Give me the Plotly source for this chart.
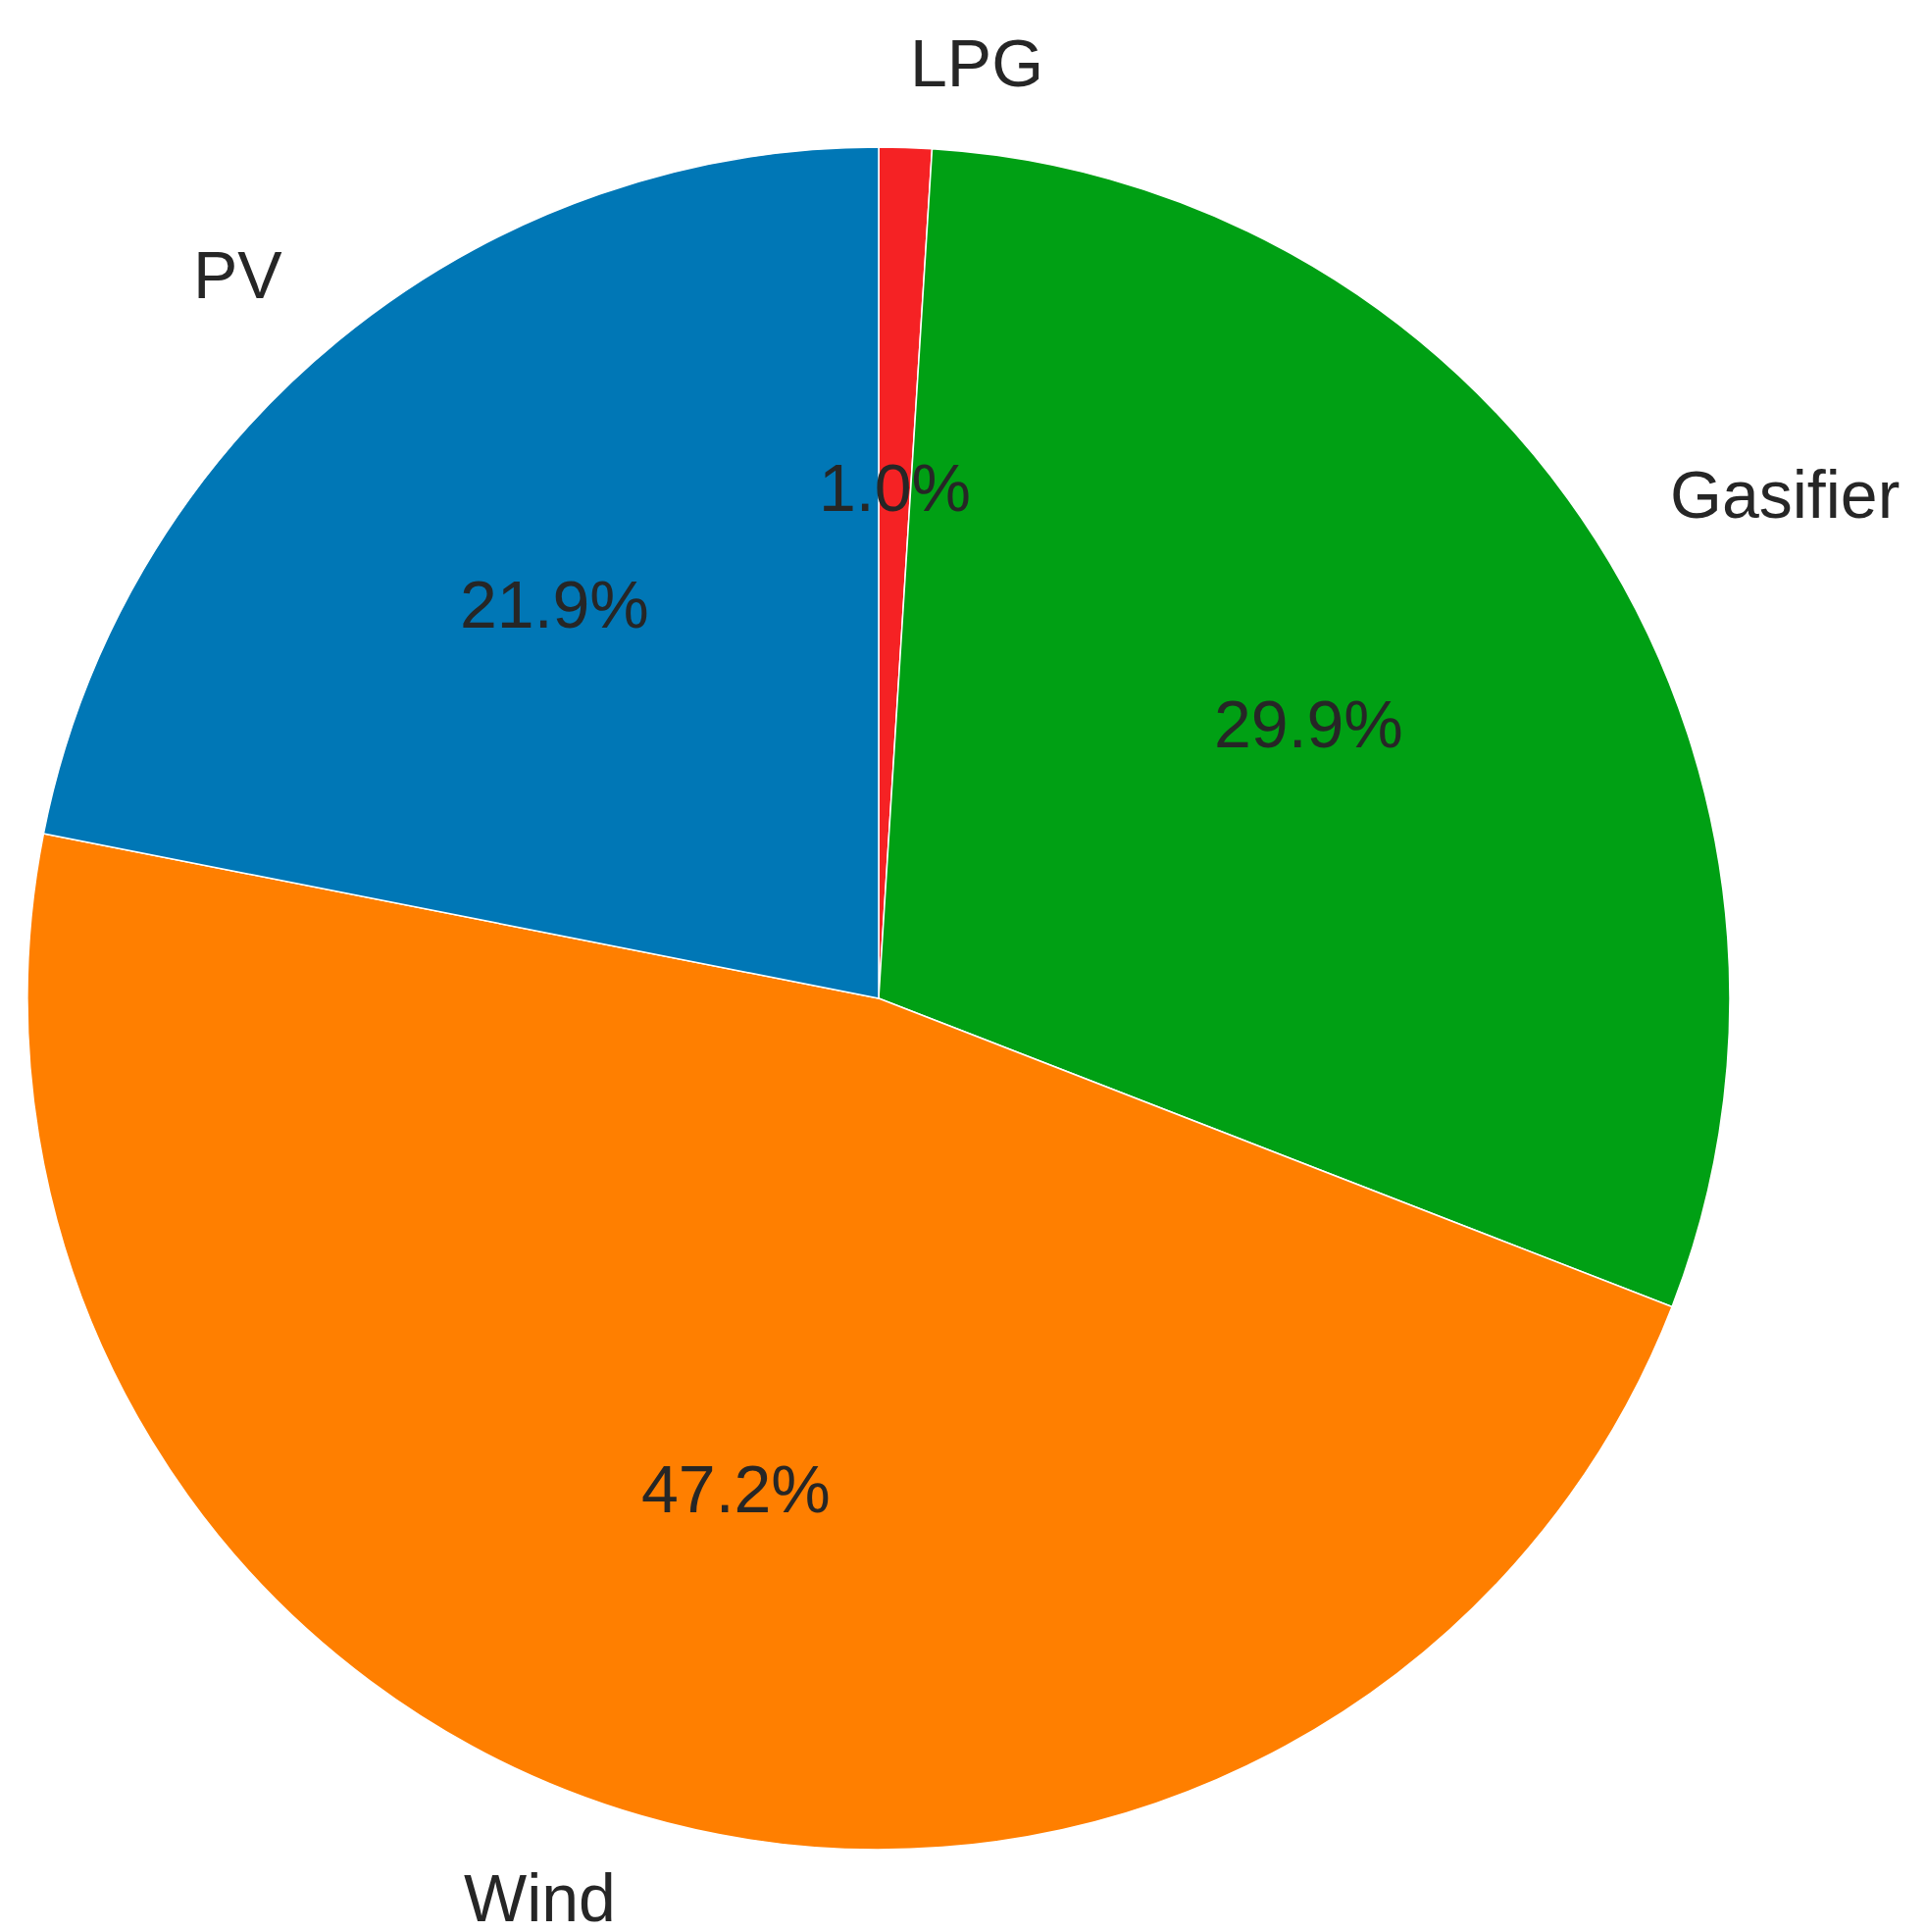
import plotly.graph_objects as go
import numpy as np

labels = ["LPG", "Gasifier", "Wind", "PV"]
values = [1.0, 29.9, 47.2, 21.9]
colors = ["#f52224", "#00a014", "#ff7f00", "#0077b6"]

W, H = 1964, 1970
cx, cy, r = 888, 960, 868  # pixels, cy from bottom

fig = go.Figure(go.Pie(
    labels=labels, values=values, sort=False, direction="clockwise", rotation=0,
    marker=dict(colors=colors, line=dict(color="white", width=1.5)),
    textinfo="none", hoverinfo="label+percent", showlegend=False,
    domain=dict(x=[(cx - r) / W, (cx + r) / W], y=[(cy - r) / H, (cy + r) / H]),
))

total = sum(values)
cum = 0.0
font = dict(size=68, color="#262626", family="Liberation Sans")
for lab, v in zip(labels, values):
    mid = (cum + v / 2) / total * 2 * np.pi
    cum += v
    dx, dy = np.sin(mid), np.cos(mid)
    fig.add_annotation(x=(cx + 1.1 * r * dx) / W, y=(cy + 1.1 * r * dy) / H,
                       xref="paper", yref="paper", text=lab, showarrow=False,
                       xanchor="left" if dx >= 0 else "right", yanchor="middle",
                       font=font)
    fig.add_annotation(x=(cx + 0.6 * r * dx) / W, y=(cy + 0.6 * r * dy) / H,
                       xref="paper", yref="paper", text=f"{v / total * 100:.1f}%",
                       showarrow=False, xanchor="center", yanchor="middle",
                       font=font)

fig.update_layout(width=W, height=H, margin=dict(l=0, r=0, t=0, b=0),
                  paper_bgcolor="white", plot_bgcolor="white")
fig.write_html("out.html")
